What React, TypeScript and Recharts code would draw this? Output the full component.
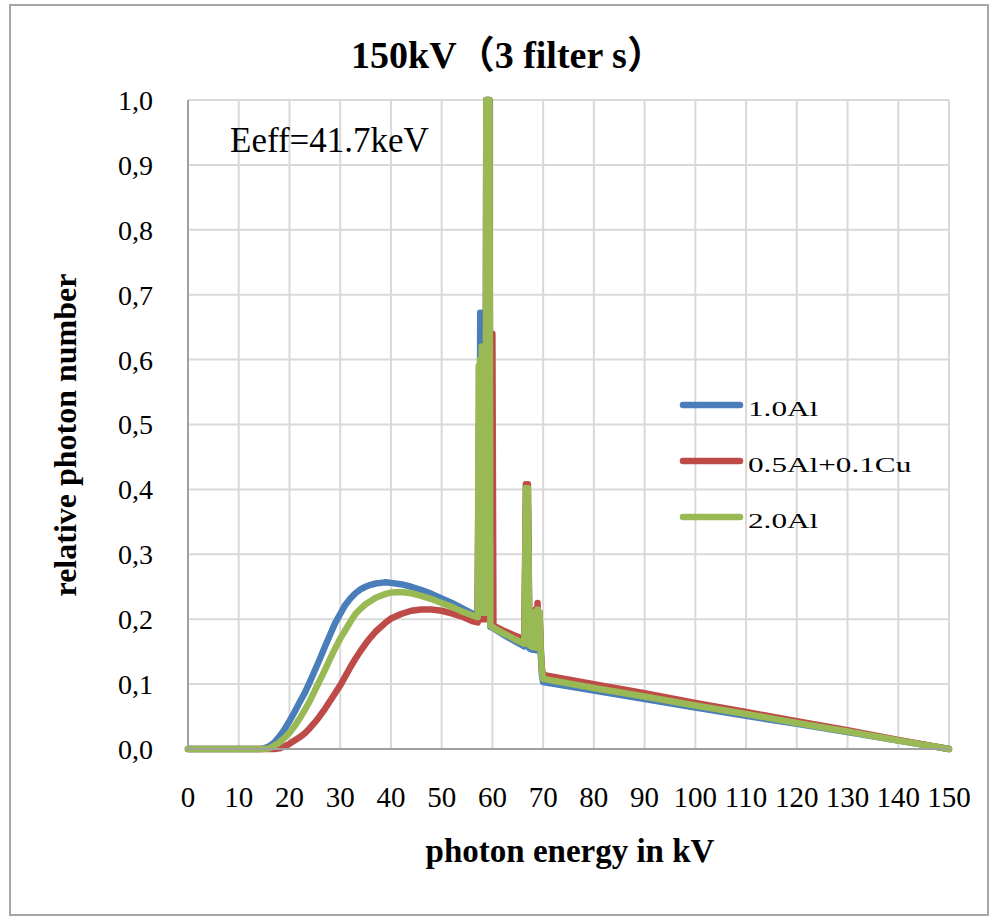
import React from 'react';
import { LineChart, Line, XAxis, YAxis, CartesianGrid, Legend } from 'recharts';

const FONT = "'Liberation Serif', 'Times New Roman', 'Noto Sans CJK JP', serif";

// Photon energy sampling points (kV); dense around the tungsten K lines
const energyKeV = [
  0, 5, 10, 14, 15, 16, 17, 18, 19, 20,
  21, 22, 23, 24, 25, 26, 27, 28, 29, 30,
  31, 32, 33, 34, 35, 36, 37, 38, 39, 40,
  42, 44, 46, 48, 50, 52, 54, 56, 57.1, 57.3,
  57.45, 57.6, 57.75, 57.9, 58.05, 58.2, 58.35, 58.5, 58.65, 58.8,
  58.95, 59.1, 59.25, 59.4, 59.6, 60.0, 60.2, 62, 64, 66.3,
  66.6, 66.8, 67.0, 67.3, 67.9, 68.1, 68.3, 68.5, 68.7, 68.9,
  69.1, 69.3, 69.5, 69.75, 70.0, 80, 90, 100, 110, 120,
  130, 140, 150,
];

// Relative photon number, 1.0 mm Al filter
const filter10Al = [
  0, 0, 0, 0, 0.001, 0.004, 0.01, 0.019, 0.03, 0.043,
  0.057, 0.072, 0.086, 0.103, 0.121, 0.139, 0.158, 0.176, 0.194, 0.208,
  0.222, 0.232, 0.24, 0.246, 0.25, 0.253, 0.255, 0.256, 0.257, 0.256,
  0.254, 0.25, 0.245, 0.239, 0.232, 0.225, 0.217, 0.209, 0.206, 0.45,
  0.21, 0.672, 0.21, 0.672, 0.21, 0.5, 0.21, 0.5, 0.21, 1.0,
  0.3, 1.0, 0.3, 1.0, 0.188, 0.187, 0.186, 0.177, 0.168, 0.158,
  0.37, 0.25, 0.37, 0.155, 0.153, 0.2, 0.153, 0.2, 0.152, 0.205,
  0.152, 0.2, 0.151, 0.115, 0.103, 0.09, 0.077, 0.064, 0.051, 0.039,
  0.026, 0.013, 0,
];

// Relative photon number, 0.5 mm Al + 0.1 mm Cu filter
const filter05Al01Cu = [
  0, 0, 0, 0, 0, 0, 0, 0.001, 0.004, 0.008,
  0.013, 0.018, 0.024, 0.032, 0.041, 0.051, 0.062, 0.074, 0.086, 0.098,
  0.112, 0.126, 0.139, 0.151, 0.162, 0.172, 0.181, 0.188, 0.195, 0.201,
  0.208, 0.213, 0.215, 0.215, 0.213, 0.209, 0.204, 0.197, 0.195, 0.5,
  0.2, 0.55, 0.2, 0.55, 0.2, 0.55, 0.2, 0.55, 0.2, 1.0,
  0.3, 1.0, 0.3, 1.0, 0.3, 0.64, 0.19, 0.183, 0.176, 0.169,
  0.408, 0.25, 0.408, 0.168, 0.165, 0.21, 0.163, 0.215, 0.162, 0.225,
  0.162, 0.21, 0.16, 0.125, 0.114, 0.1, 0.086, 0.071, 0.057, 0.043,
  0.029, 0.014, 0,
];

// Relative photon number, 2.0 mm Al filter
const filter20Al = [
  0, 0, 0, 0, 0, 0.001, 0.005, 0.01, 0.017, 0.025,
  0.035, 0.047, 0.06, 0.074, 0.09, 0.106, 0.122, 0.139, 0.155, 0.17,
  0.183, 0.196, 0.208, 0.216, 0.223, 0.228, 0.233, 0.236, 0.239, 0.241,
  0.242, 0.24, 0.236, 0.231, 0.225, 0.219, 0.212, 0.206, 0.203, 0.59,
  0.21, 0.6, 0.21, 0.62, 0.21, 0.62, 0.21, 0.62, 0.21, 1.0,
  0.3, 1.0, 0.3, 1.0, 0.19, 0.188, 0.187, 0.179, 0.171, 0.162,
  0.402, 0.25, 0.402, 0.16, 0.157, 0.21, 0.157, 0.212, 0.156, 0.215,
  0.156, 0.21, 0.155, 0.12, 0.108, 0.094, 0.081, 0.067, 0.054, 0.04,
  0.027, 0.013, 0,
];

const seriesNames = ['1.0Al', '0.5Al+0.1Cu', '2.0Al'];
const seriesColors = ['#4a7ebb', '#be4b48', '#98b954'];

const xTicks = [0, 10, 20, 30, 40, 50, 60, 70, 80, 90, 100, 110, 120, 130, 140, 150];
const yTicks = [0, 0.1, 0.2, 0.3, 0.4, 0.5, 0.6, 0.7, 0.8, 0.9, 1.0];

const chartTitle = '150kV（3 filter s）';
const xAxisTitle = 'photon energy in kV';
const yAxisTitle = 'relative photon number';
const effectiveEnergyNote = 'Eeff=41.7keV';

const data = energyKeV.map((e, i) => ({
  energy: e,
  s0: filter10Al[i],
  s1: filter05Al01Cu[i],
  s2: filter20Al[i],
}));

const W = 994;
const H = 920;

// Legend keeps the series order (1.0Al, 0.5Al+0.1Cu, 2.0Al)
const renderLegend = () => (
  <svg width={W} height={H} style={{ display: 'block', overflow: 'visible' }}>
    {seriesNames.map((name, i) => {
      const y = 405 + i * 56;
      return (
        <g key={name}>
          <line x1={683} x2={740} y1={y} y2={y} stroke={seriesColors[i]} strokeWidth={6.5} strokeLinecap="round" />
          <text
            transform={`translate(748 ${y + 11}) scale(1.42 1)`}
            fontFamily={FONT}
            fontSize={22}
            fill="#000"
          >
            {name}
          </text>
        </g>
      );
    })}
  </svg>
);

const fmtY = (v: number) => v.toFixed(1).replace('.', ',');

export default function App() {
  return (
    <div style={{ position: 'absolute', left: 0, top: 0, width: W, height: H, background: '#fff' }}>
      <LineChart
        width={W}
        height={H}
        data={data}
        margin={{ top: 100, right: 45, bottom: 111, left: 118 }}
      >
        <rect x={10} y={5} width={978} height={910} fill="none" stroke="#a6a6a6" strokeWidth={2} />
        <CartesianGrid stroke="#d9d9d9" strokeWidth={2} />
        <XAxis
          type="number"
          dataKey="energy"
          domain={[0, 150]}
          ticks={xTicks}
          interval={0}
          height={60}
          tickLine={false}
          axisLine={{ stroke: '#a0a0a0', strokeWidth: 2 }}
          tickMargin={31}
          tick={{ fontSize: 29, fontFamily: FONT, fill: '#000' }}
        />
        <YAxis
          type="number"
          domain={[0, 1]}
          ticks={yTicks}
          interval={0}
          width={70}
          tickLine={false}
          axisLine={{ stroke: '#a0a0a0', strokeWidth: 2 }}
          tickMargin={29}
          tickFormatter={fmtY}
          tick={{ fontSize: 28, fontFamily: FONT, fill: '#000' }}
        />
        {seriesNames.map((name, i) => (
          <Line
            key={name}
            type="linear"
            dataKey={`s${i}`}
            name={name}
            stroke={seriesColors[i]}
            strokeWidth={6.5}
            strokeLinejoin="round"
            strokeLinecap="round"
            dot={false}
            activeDot={false}
            isAnimationActive={false}
          />
        ))}
        <Legend
          layout="vertical"
          align="center"
          verticalAlign="middle"
          content={renderLegend}
          wrapperStyle={{ position: 'absolute', left: 0, top: 0, width: W, height: H, pointerEvents: 'none' }}
        />
        <text x={508} y={68} textAnchor="middle" fontFamily={FONT} fontWeight="bold" fontSize={38} fill="#000">
          {chartTitle}
        </text>
        <text x={230} y={152} fontFamily={FONT} fontSize={35} fill="#000">
          {effectiveEnergyNote}
        </text>
        <text x={570} y={862} textAnchor="middle" fontFamily={FONT} fontWeight="bold" fontSize={33} fill="#000">
          {xAxisTitle}
        </text>
        <text
          transform="translate(76 435) rotate(-90)"
          textAnchor="middle"
          fontFamily={FONT}
          fontWeight="bold"
          fontSize={32}
          fill="#000"
        >
          {yAxisTitle}
        </text>
      </LineChart>
    </div>
  );
}
